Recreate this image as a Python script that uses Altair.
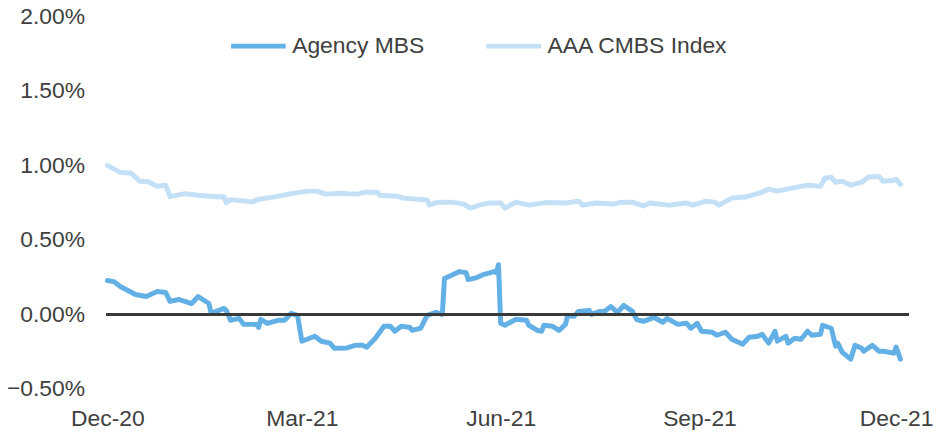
import altair as alt
import pandas as pd

# ---- data ----
mbs_dates = [
    "2020-12-01", "2020-12-04", "2020-12-07", "2020-12-14", "2020-12-19", "2020-12-24",
    "2020-12-28", "2020-12-30", "2021-01-03", "2021-01-09", "2021-01-12", "2021-01-17",
    "2021-01-18", "2021-01-24", "2021-01-25", "2021-01-27", "2021-01-31", "2021-02-02",
    "2021-02-08", "2021-02-09", "2021-02-10", "2021-02-13", "2021-02-18", "2021-02-21",
    "2021-02-24", "2021-02-27", "2021-03-01", "2021-03-07", "2021-03-10", "2021-03-14",
    "2021-03-16", "2021-03-22", "2021-03-26", "2021-03-29", "2021-03-31", "2021-04-04",
    "2021-04-06", "2021-04-08", "2021-04-11", "2021-04-13", "2021-04-16", "2021-04-20",
    "2021-04-21", "2021-04-25", "2021-04-28", "2021-05-02", "2021-05-05", "2021-05-06",
    "2021-05-10", "2021-05-13", "2021-05-16", "2021-05-17", "2021-05-21", "2021-05-24",
    "2021-05-29", "2021-05-30", "2021-05-31", "2021-06-01", "2021-06-03", "2021-06-08",
    "2021-06-13", "2021-06-14", "2021-06-18", "2021-06-20", "2021-06-21", "2021-06-25",
    "2021-06-28", "2021-07-01", "2021-07-02", "2021-07-05", "2021-07-07", "2021-07-12",
    "2021-07-13", "2021-07-17", "2021-07-19", "2021-07-22", "2021-07-25", "2021-07-28",
    "2021-08-01", "2021-08-03", "2021-08-06", "2021-08-11", "2021-08-15", "2021-08-17",
    "2021-08-22", "2021-08-26", "2021-08-28", "2021-08-31", "2021-09-02", "2021-09-07",
    "2021-09-09", "2021-09-13", "2021-09-16", "2021-09-21", "2021-09-24", "2021-09-28",
    "2021-09-30", "2021-10-03", "2021-10-06", "2021-10-07", "2021-10-11", "2021-10-12",
    "2021-10-15", "2021-10-18", "2021-10-21", "2021-10-23", "2021-10-27", "2021-10-28",
    "2021-11-01", "2021-11-03", "2021-11-04", "2021-11-06", "2021-11-10", "2021-11-12",
    "2021-11-15", "2021-11-16", "2021-11-20", "2021-11-23", "2021-11-25", "2021-11-30",
    "2021-12-01", "2021-12-03",
]
mbs_values = [
    0.227, 0.22, 0.187, 0.133, 0.12, 0.153,
    0.147, 0.087, 0.10, 0.073, 0.12, 0.073,
    0.007, 0.04, 0.027, -0.04, -0.027, -0.067,
    -0.067, -0.087, -0.033, -0.06, -0.04, -0.04,
    0.007, -0.007, -0.18, -0.147, -0.18, -0.193,
    -0.227, -0.225, -0.207, -0.207, -0.22, -0.16,
    -0.12, -0.08, -0.08, -0.113, -0.08, -0.087,
    -0.107, -0.093, -0.007, 0.013, 0.0, 0.24,
    0.267, 0.287, 0.28, 0.233, 0.247, 0.267,
    0.287, 0.28, 0.333, -0.06, -0.073, -0.033,
    -0.04, -0.073, -0.107, -0.113, -0.073, -0.08,
    -0.107, -0.067, -0.007, -0.013, 0.02, 0.027,
    0.0, 0.02, 0.02, 0.053, 0.013, 0.06,
    0.02, -0.035, -0.047, -0.02, -0.053, -0.027,
    -0.067, -0.06, -0.093, -0.06, -0.113, -0.12,
    -0.14, -0.12, -0.167, -0.2, -0.153, -0.147,
    -0.133, -0.193, -0.113, -0.18, -0.147, -0.193,
    -0.16, -0.167, -0.113, -0.14, -0.133, -0.073,
    -0.093, -0.213, -0.193, -0.253, -0.30, -0.207,
    -0.227, -0.247, -0.207, -0.247, -0.247, -0.26,
    -0.22, -0.30,
]

cmbs_dates = [
    "2020-12-01", "2020-12-07", "2020-12-12", "2020-12-16", "2020-12-20", "2020-12-24",
    "2020-12-28", "2020-12-30", "2021-01-06", "2021-01-12", "2021-01-20", "2021-01-24",
    "2021-01-25", "2021-01-27", "2021-02-06", "2021-02-09", "2021-02-17", "2021-02-24",
    "2021-03-04", "2021-03-08", "2021-03-12", "2021-03-19", "2021-03-22", "2021-03-27",
    "2021-03-30", "2021-04-05", "2021-04-06", "2021-04-14", "2021-04-17", "2021-04-28",
    "2021-04-29", "2021-05-03", "2021-05-09", "2021-05-15", "2021-05-18", "2021-05-22",
    "2021-05-27", "2021-06-01", "2021-06-03", "2021-06-08", "2021-06-14", "2021-06-22",
    "2021-07-01", "2021-07-07", "2021-07-09", "2021-07-15", "2021-07-23", "2021-07-27",
    "2021-08-01", "2021-08-06", "2021-08-09", "2021-08-18", "2021-08-26", "2021-08-29",
    "2021-09-04", "2021-09-08", "2021-09-10", "2021-09-16", "2021-09-22", "2021-09-27",
    "2021-09-30", "2021-10-03", "2021-10-07", "2021-10-14", "2021-10-21", "2021-10-27",
    "2021-10-29", "2021-11-01", "2021-11-03", "2021-11-06", "2021-11-10", "2021-11-15",
    "2021-11-18", "2021-11-23", "2021-11-25", "2021-11-30", "2021-12-01", "2021-12-03",
]
cmbs_values = [
    1.00, 0.953, 0.947, 0.893, 0.89, 0.86,
    0.867, 0.79, 0.81, 0.80, 0.79, 0.79,
    0.75, 0.77, 0.755, 0.773, 0.79, 0.81,
    0.827, 0.827, 0.807, 0.813, 0.81, 0.807,
    0.82, 0.82, 0.80, 0.793, 0.78, 0.767,
    0.733, 0.753, 0.753, 0.74, 0.713, 0.733,
    0.747, 0.747, 0.713, 0.753, 0.733, 0.75,
    0.747, 0.76, 0.733, 0.747, 0.74, 0.753,
    0.753, 0.727, 0.747, 0.733, 0.747, 0.733,
    0.76, 0.753, 0.733, 0.78, 0.787, 0.807,
    0.82, 0.84, 0.827, 0.847, 0.867, 0.86,
    0.913, 0.92, 0.887, 0.893, 0.867, 0.887,
    0.92, 0.927, 0.893, 0.90, 0.907, 0.873,
]

series_names = ["Agency MBS", "AAA CMBS Index"]
series_colors = ["#62B0E6", "#C3E0F6"]
y_ticks = [-0.5, 0.0, 0.5, 1.0, 1.5, 2.0]

df = pd.concat([
    pd.DataFrame({"date": mbs_dates, "value": mbs_values, "series": series_names[0]}),
    pd.DataFrame({"date": cmbs_dates, "value": cmbs_values, "series": series_names[1]}),
], ignore_index=True)

FONT = "Liberation Sans"
TXT = "#404040"

x_ticks = [
    alt.DateTime(year=2020, month=12, date=1, utc=True),
    alt.DateTime(year=2021, month=3, date=1, utc=True),
    alt.DateTime(year=2021, month=6, date=1, utc=True),
    alt.DateTime(year=2021, month=9, date=1, utc=True),
    alt.DateTime(year=2021, month=12, date=1, utc=True),
]
x_domain = [
    alt.DateTime(year=2020, month=11, date=30, hours=13, utc=True),
    alt.DateTime(year=2021, month=12, date=6, hours=14, utc=True),
]

x_enc = alt.X(
    "date:T",
    scale=alt.Scale(type="utc", domain=x_domain),
    axis=alt.Axis(
        values=x_ticks, format="%b-%y", title=None, grid=False, domain=False,
        ticks=False, labelFont=FONT, labelFontSize=23, labelColor=TXT,
        labelPadding=19, labelBaseline="top", labelFlush=False, labelAlign="center",
    ),
)
y_enc = alt.Y(
    "value:Q",
    scale=alt.Scale(domain=[-0.5, 2.0], nice=False, zero=False),
    axis=alt.Axis(
        values=y_ticks, labelExpr="format(datum.value, '.2f') + '%'", title=None,
        grid=False, domain=False, ticks=False, labelFont=FONT, labelFontSize=23,
        labelColor=TXT, labelPadding=22, labelFlush=False,
    ),
)

zero_rule = alt.Chart(df).mark_rule(color="#3A3A3A", strokeWidth=3).encode(
    y=alt.datum(0.0)
)

lines = alt.Chart(df).mark_line(strokeWidth=5, strokeJoin="round", strokeCap="round").encode(
    x=x_enc,
    y=y_enc,
    color=alt.Color(
        "series:N",
        scale=alt.Scale(domain=series_names, range=series_colors),
        legend=alt.Legend(
            title=None, orient="none", direction="horizontal", legendX=123, legendY=0,
            symbolType="stroke", symbolSize=3025, symbolStrokeWidth=5,
            labelFont=FONT, labelFontSize=23, labelColor=TXT, labelOffset=4,
            columnPadding=52, labelLimit=400,
        ),
    ),
    detail="series:N",
)

chart = alt.layer(lines, zero_rule).properties(
    width=807,
    height=375,
    background="white",
    autosize=alt.AutoSizeParams(type="none"),
    padding={"left": 99, "top": 7, "right": 29, "bottom": 40},
).configure_view(stroke="transparent", strokeWidth=0)

chart.save("out.html", embed_options={"renderer": "svg", "actions": False})
